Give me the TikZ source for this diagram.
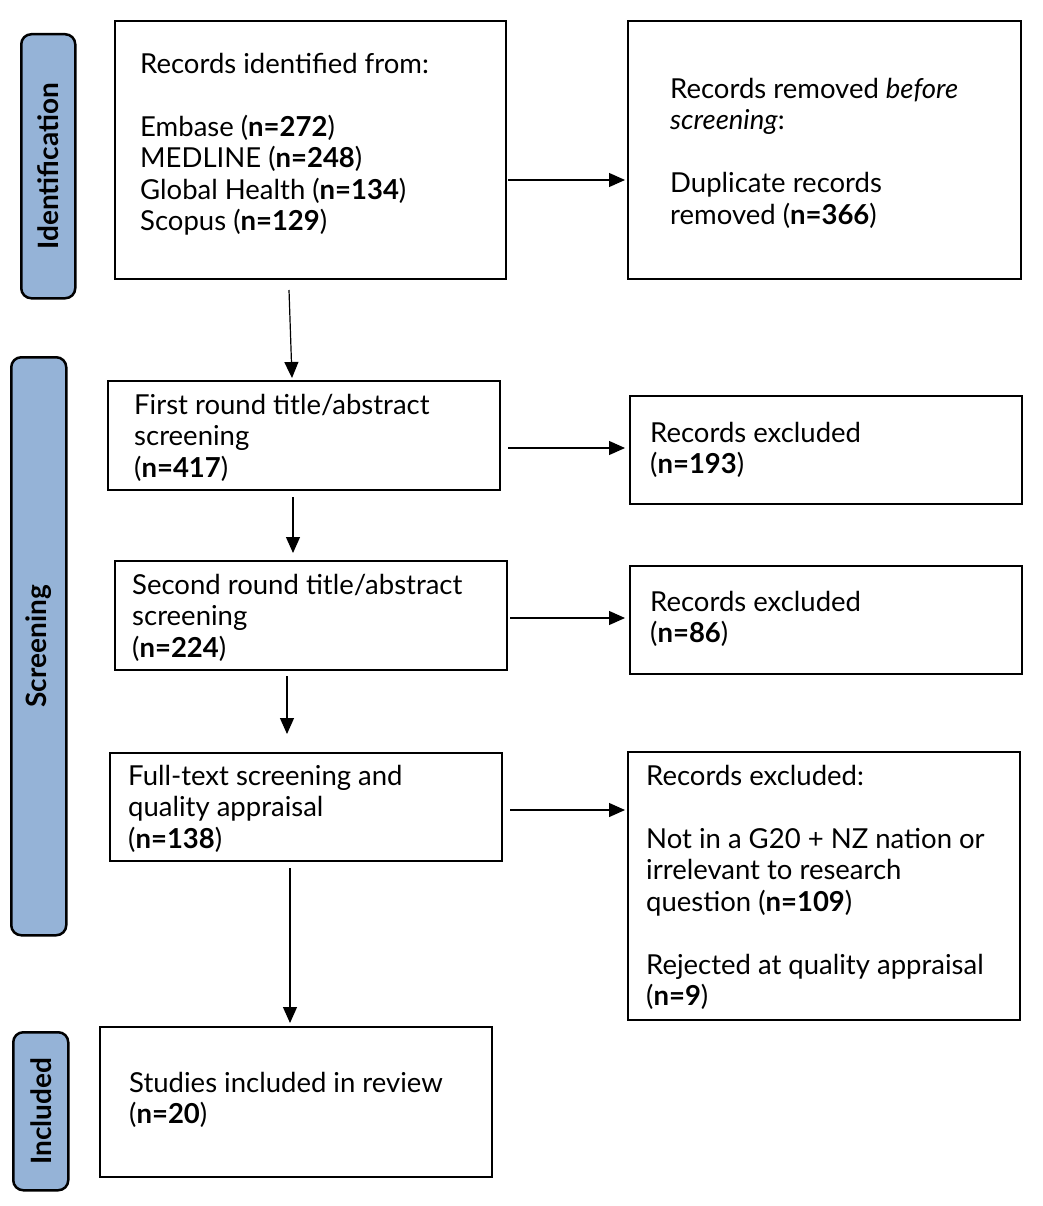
\documentclass[tikz,border=0pt]{standalone}
\usepackage{fontspec}
\setmainfont{Lato}
\usetikzlibrary{arrows.meta}
\definecolor{sideblue}{HTML}{95B3D7}
\begin{document}
\begin{tikzpicture}[x=1pt,y=-1pt,
  box/.style={draw, line width=2.5pt, anchor=north west, inner sep=0pt, outer sep=0pt},
  side/.style={draw, line width=2.5pt, fill=sideblue, rounded corners=10pt, anchor=north west, inner sep=0pt},
  txt/.style={anchor=north west, inner sep=0pt, align=left, font=\fontsize{27.5}{31.5}\selectfont},
  lab/.style={rotate=90, inner sep=0pt, font=\fontsize{28}{30}\selectfont\bfseries},
  arr/.style={-{Triangle[length=16pt,width=14pt]}, line width=1.2pt}]
\useasboundingbox (0,0) rectangle (1042,1206);
% side labels
\node[side, minimum width=54pt, minimum height=264pt] (sI) at (20,33) {};
\node[lab] (lI) at (sI.center) {Identification};
\node[side, minimum width=55pt, minimum height=578pt] (sS) at (10,356) {};
\node[lab] (lS) at (sS.center) {Screening};
\node[side, minimum width=55pt, minimum height=158pt] (sN) at (12,1031) {};
\node[lab] (lN) at (sN.center) {Included};
% boxes
\node[box, minimum width=391pt, minimum height=258pt] (b1) at (115,21) {};
\node[txt] (t1) at (140,53) {Records identified from:\\[31.5pt]Embase (\textbf{n=272})\\MEDLINE (\textbf{n=248})\\Global Health (\textbf{n=134})\\Scopus (\textbf{n=129})};
\node[box, minimum width=393pt, minimum height=258pt] (b2) at (628,21) {};
\node[txt] (t2) at (670,78) {Records removed \textit{before}\\\textit{screening}:\\[31.5pt]Duplicate records\\removed (\textbf{n=366})};
\node[box, minimum width=392pt, minimum height=109pt] (b3) at (108,381) {};
\node[txt] (t3) at (134,394) {First round title/abstract\\screening\\(\textbf{n=417})};
\node[box, minimum width=392pt, minimum height=108pt] (b4) at (630,396) {};
\node[txt] (t4) at (650,422) {Records excluded\\(\textbf{n=193})};
\node[box, minimum width=392pt, minimum height=109pt] (b5) at (115,561) {};
\node[txt] (t5) at (132,574) {Second round title/abstract\\screening\\(\textbf{n=224})};
\node[box, minimum width=392pt, minimum height=108pt] (b6) at (630,566) {};
\node[txt] (t6) at (650,591) {Records excluded\\(\textbf{n=86})};
\node[box, minimum width=392pt, minimum height=108pt] (b7) at (110,753) {};
\node[txt] (t7) at (128,765) {Full-text screening and\\quality appraisal\\(\textbf{n=138})};
\node[box, minimum width=392pt, minimum height=268pt] (b8) at (628,752) {};
\node[txt] (t8) at (646,765) {Records excluded:\\[31.5pt]Not in a G20 + NZ nation or\\irrelevant to research\\question (\textbf{n=109})\\[31.5pt]Rejected at quality appraisal\\(\textbf{n=9})};
\node[box, minimum width=392pt, minimum height=150pt] (b9) at (100,1027) {};
\node[txt] (t9) at (129,1072) {Studies included in review\\(\textbf{n=20})};
% arrow endpoints
\coordinate (a1s) at (508,180); \coordinate (a1e) at (625,180);
\coordinate (d1s) at (289,290); \coordinate (d1e) at (292,378);
\coordinate (a2s) at (508,448); \coordinate (a2e) at (625,448);
\coordinate (d2s) at (293,497); \coordinate (d2e) at (293,553);
\coordinate (a3s) at (510,618); \coordinate (a3e) at (625,618);
\coordinate (d3s) at (287,676); \coordinate (d3e) at (287,734);
\coordinate (a4s) at (510,810); \coordinate (a4e) at (625,810);
\coordinate (d4s) at (290,868); \coordinate (d4e) at (290,1023);
\draw[arr] (a1s) -- (a1e);
\draw[arr] (d1s) -- (d1e);
\draw[arr] (a2s) -- (a2e);
\draw[arr] (d2s) -- (d2e);
\draw[arr] (a3s) -- (a3e);
\draw[arr] (d3s) -- (d3e);
\draw[arr] (a4s) -- (a4e);
\draw[arr] (d4s) -- (d4e);
\end{tikzpicture}
\end{document}
